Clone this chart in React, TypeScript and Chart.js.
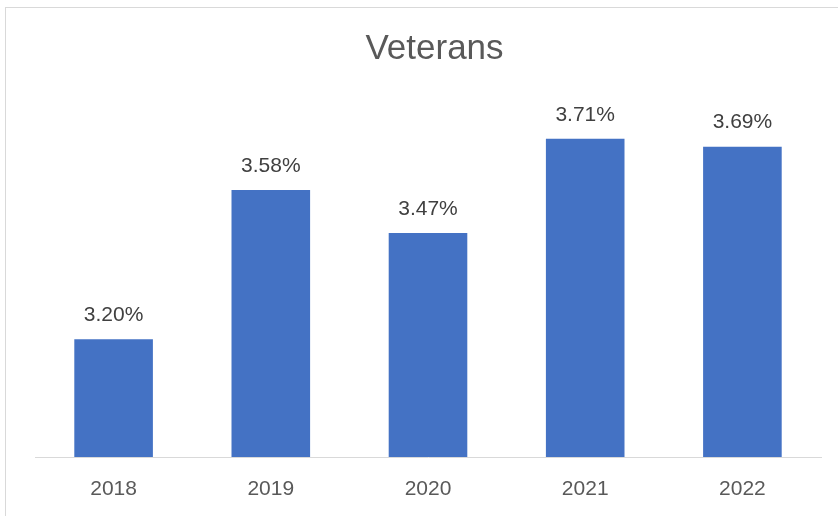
import React, { useEffect, useRef } from 'react';
import { Chart, registerables } from 'chart.js';

Chart.register(...registerables);

const categories = ['2018', '2019', '2020', '2021', '2022'];
const veterans = [3.2, 3.58, 3.47, 3.71, 3.69];
const chartTitle = 'Veterans';
const seriesName = 'Veterans';
const yMin = 2.9;
const yMax = 3.87;

const FONT = "'Liberation Sans', Arial, sans-serif";

const dataLabelPlugin = {
  id: 'dataLabels',
  afterDatasetsDraw(chart: any) {
    const { ctx } = chart;
    const meta = chart.getDatasetMeta(0);
    ctx.save();
    ctx.font = `21px ${FONT}`;
    ctx.fillStyle = '#404040';
    ctx.textAlign = 'center';
    ctx.textBaseline = 'middle';
    meta.data.forEach((bar: any, i: number) => {
      const v = chart.data.datasets[0].data[i] as number;
      ctx.fillText(v.toFixed(2) + '%', bar.x, bar.y - 24);
    });
    ctx.restore();
  },
};

export default function App() {
  const canvasRef = useRef<HTMLCanvasElement | null>(null);

  useEffect(() => {
    if (!canvasRef.current) return;
    const chart = new Chart(canvasRef.current, {
      type: 'bar',
      data: {
        labels: categories,
        datasets: [
          {
            label: seriesName,
            data: veterans,
            backgroundColor: '#4472C4',
            borderWidth: 0,
            barPercentage: 0.5,
            categoryPercentage: 1,
          },
        ],
      },
      options: {
        responsive: false,
        animation: false,
        devicePixelRatio: 1,
        layout: { padding: { left: 0, right: 0, top: 0, bottom: 11 } },
        plugins: {
          legend: { display: false },
          tooltip: { enabled: false },
          title: {
            display: true,
            text: chartTitle,
            color: '#595959',
            font: { family: FONT, size: 35, weight: 'normal', lineHeight: 1.2 },
            padding: { top: 20.5, bottom: 5.5 },
          },
        },
        scales: {
          x: {
            grid: { display: false, drawTicks: false },
            border: { display: true, color: '#d9d9d9', width: 1 },
            ticks: { color: '#595959', font: { family: FONT, size: 21 }, padding: 20 },
            afterFit: (s: any) => {
              s.height = 60;
            },
          },
          y: {
            position: 'left',
            min: yMin,
            max: yMax,
            grid: { display: false, drawTicks: false },
            border: { display: false },
            ticks: { display: false },
            afterFit: (s: any) => {
              s.width = 29;
            },
          },
          y2: {
            position: 'right',
            min: 0,
            max: 1,
            grid: { display: false, drawTicks: false },
            border: { display: false },
            ticks: { display: false },
            afterFit: (s: any) => {
              s.width = 42;
            },
          },
        },
      } as any,
      plugins: [dataLabelPlugin],
    });
    return () => chart.destroy();
  }, []);

  return (
    <div
      style={{
        position: 'fixed',
        left: 0,
        top: 0,
        width: 838,
        height: 516,
        overflow: 'hidden',
        background: '#ffffff',
      }}
    >
      <div
        style={{
          position: 'absolute',
          left: 5,
          top: 7,
          width: 857,
          height: 520,
          border: '1px solid #d9d9d9',
        }}
      >
        <canvas
          ref={canvasRef}
          width={857}
          height={520}
          style={{ display: 'block', width: 857, height: 520 }}
        />
      </div>
    </div>
  );
}
